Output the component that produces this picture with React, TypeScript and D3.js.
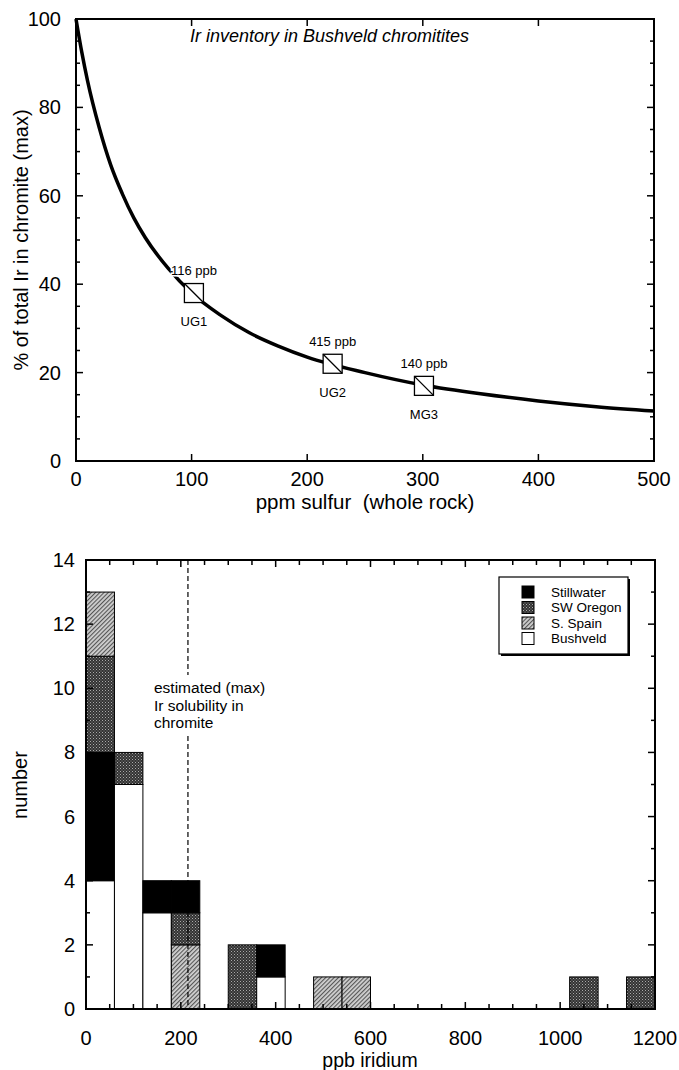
import { useEffect, useRef } from 'react';
import * as d3 from 'd3';

// top panel: Ir share in chromite vs. whole-rock sulfur
const sulfurPpm = [0, 5, 10, 20, 30, 40, 50, 60, 80, 100, 125, 150, 175, 200, 250, 300, 350, 400, 450, 500];
const irInChromitePct = [100, 92.5, 86, 75.5, 67, 60.5, 55, 50.5, 43.5, 38, 33, 29, 26, 23.5, 20, 17.2, 15.2, 13.6, 12.3, 11.3];

const sampleNames = ['UG1', 'UG2', 'MG3'];
const sampleSulfur = [102, 222, 301];
const samplePct = [38, 22, 17];
const sampleIr = ['116 ppb', '415 ppb', '140 ppb'];

// bottom panel: histogram of ppb iridium, 60 ppb bins
const binStart = [0, 60, 120, 180, 300, 360, 480, 540, 1020, 1140];
const binWidth = 60;
const stillwater = [4, 0, 1, 1, 0, 1, 0, 0, 0, 0];
const swOregon = [3, 1, 0, 1, 2, 0, 0, 0, 1, 1];
const sSpain = [2, 0, 0, 2, 0, 0, 1, 1, 0, 0];
const bushveld = [4, 7, 3, 0, 0, 1, 0, 0, 0, 0];
const defaultOrder = ['bushveld', 'stillwater', 'swOregon', 'sSpain'];
const bin180Order = ['bushveld', 'sSpain', 'swOregon', 'stillwater'];
const solubilityPpb = 215;

const legendNames = ['Stillwater', 'SW Oregon', 'S. Spain', 'Bushveld'];
const legendKeys = ['stillwater', 'swOregon', 'sSpain', 'bushveld'];

const FONT = '"Liberation Sans", Arial, sans-serif';

export default function App() {
  const svgRef = useRef<SVGSVGElement | null>(null);

  useEffect(() => {
    const svg = svgRef.current;
    if (!svg) return;
    const root = d3.select(svg);
    root.selectAll('*').remove();
    root.attr('font-family', FONT);

    // patterns
    const defs = root.append('defs');
    const stip = defs.append('pattern').attr('id', 'stip').attr('patternUnits', 'userSpaceOnUse')
      .attr('width', 3).attr('height', 3);
    stip.append('rect').attr('width', 3).attr('height', 3).attr('fill', '#333');
    stip.append('rect').attr('x', 0).attr('y', 0).attr('width', 1).attr('height', 1).attr('fill', '#aaa');
    stip.append('rect').attr('x', 1.5).attr('y', 1.5).attr('width', 1).attr('height', 1).attr('fill', '#888');
    const hatch = defs.append('pattern').attr('id', 'hatch').attr('patternUnits', 'userSpaceOnUse')
      .attr('width', 3).attr('height', 3).attr('patternTransform', 'rotate(45)');
    hatch.append('rect').attr('width', 3).attr('height', 3).attr('fill', '#d0d0d0');
    hatch.append('rect').attr('width', 1.1).attr('height', 3).attr('fill', '#555');

    const fills: Record<string, string> = {
      stillwater: '#000',
      swOregon: 'url(#stip)',
      sSpain: 'url(#hatch)',
      bushveld: '#fff',
    };
    const counts: Record<string, number[]> = { stillwater, swOregon, sSpain, bushveld };

    // ---------- top panel ----------
    const x1 = d3.scaleLinear().domain([0, 500]).range([76, 654]);
    const y1 = d3.scaleLinear().domain([0, 100]).range([461, 19]);

    const g1 = root.append('g');
    // ticks (inward, all four sides)
    d3.range(0, 101, 5).forEach((v) => {
      const len = v % 20 === 0 ? 7 : 4;
      g1.append('line').attr('x1', x1(0)).attr('x2', x1(0) + len).attr('y1', y1(v)).attr('y2', y1(v))
        .attr('stroke', '#000').attr('stroke-width', 1.5);
      g1.append('line').attr('x1', x1(500)).attr('x2', x1(500) - len).attr('y1', y1(v)).attr('y2', y1(v))
        .attr('stroke', '#000').attr('stroke-width', 1.5);
    });
    d3.range(0, 501, 100).forEach((v) => {
      g1.append('line').attr('x1', x1(v)).attr('x2', x1(v)).attr('y1', y1(0)).attr('y2', y1(0) - 7)
        .attr('stroke', '#000').attr('stroke-width', 1.5);
      g1.append('line').attr('x1', x1(v)).attr('x2', x1(v)).attr('y1', y1(100)).attr('y2', y1(100) + 7)
        .attr('stroke', '#000').attr('stroke-width', 1.5);
    });
    g1.append('rect').attr('x', x1(0)).attr('y', y1(100)).attr('width', x1(500) - x1(0))
      .attr('height', y1(0) - y1(100)).attr('fill', 'none').attr('stroke', '#000').attr('stroke-width', 2);

    d3.range(0, 101, 20).forEach((v) => {
      g1.append('text').attr('x', 61).attr('y', y1(v)).attr('dy', '0.35em').attr('text-anchor', 'end')
        .attr('font-size', 20).text(v);
    });
    d3.range(0, 501, 100).forEach((v) => {
      g1.append('text').attr('x', x1(v)).attr('y', 486).attr('text-anchor', 'middle')
        .attr('font-size', 20).text(v);
    });
    g1.append('text').attr('x', 365).attr('y', 509).attr('text-anchor', 'middle').attr('font-size', 20.5)
      .style('white-space', 'pre').text('ppm sulfur  (whole rock)');
    g1.append('text').attr('transform', `translate(28,240) rotate(-90)`).attr('text-anchor', 'middle')
      .attr('font-size', 20).text('% of total Ir in chromite (max)');
    g1.append('text').attr('x', 190).attr('y', 42).attr('font-size', 18).attr('font-style', 'italic')
      .text('Ir inventory in Bushveld chromitites');

    const curve = d3.line<number>()
      .x((_, i) => x1(sulfurPpm[i]))
      .y((d) => y1(d))
      .curve(d3.curveMonotoneX);
    g1.append('path').attr('d', curve(irInChromitePct)).attr('fill', 'none')
      .attr('stroke', '#000').attr('stroke-width', 3.5);

    sampleNames.forEach((name, i) => {
      const cx = x1(sampleSulfur[i]);
      const cy = y1(samplePct[i]);
      const s = 19;
      g1.append('rect').attr('x', cx - s / 2).attr('y', cy - s / 2).attr('width', s).attr('height', s)
        .attr('fill', '#fff').attr('stroke', '#000').attr('stroke-width', 1.3);
      g1.append('line').attr('x1', cx - s / 2).attr('y1', cy - s / 2).attr('x2', cx + s / 2).attr('y2', cy + s / 2)
        .attr('stroke', '#000').attr('stroke-width', 1.3);
      g1.append('text').attr('x', cx).attr('y', cy - 18).attr('text-anchor', 'middle').attr('font-size', 13)
        .attr('stroke', '#fff').attr('stroke-width', 3).attr('paint-order', 'stroke').text(sampleIr[i]);
      g1.append('text').attr('x', cx).attr('y', cy + 33).attr('text-anchor', 'middle').attr('font-size', 13)
        .text(name);
    });

    // ---------- bottom panel ----------
    const x2 = d3.scaleLinear().domain([0, 1200]).range([86, 655]);
    const y2 = d3.scaleLinear().domain([0, 14]).range([1009, 560]);
    const g2 = root.append('g');

    binStart.forEach((b, i) => {
      const order = b === 180 ? bin180Order : defaultOrder;
      let base = 0;
      order.forEach((k) => {
        const n = counts[k][i];
        if (!n) return;
        g2.append('rect').attr('x', x2(b)).attr('y', y2(base + n)).attr('width', x2(b + binWidth) - x2(b))
          .attr('height', y2(base) - y2(base + n)).attr('fill', fills[k]).attr('stroke', '#000')
          .attr('stroke-width', 1);
        base += n;
      });
    });

    // dashed solubility line with gap for the note
    g2.append('line').attr('x1', x2(solubilityPpb)).attr('x2', x2(solubilityPpb)).attr('y1', y2(14))
      .attr('y2', y2(0)).attr('stroke', '#000').attr('stroke-width', 1.2).attr('stroke-dasharray', '5,3');
    g2.append('rect').attr('x', 150).attr('y', 675).attr('width', 122).attr('height', 60).attr('fill', '#fff');
    ['estimated (max)', 'Ir solubility in', 'chromite'].forEach((t, i) => {
      g2.append('text').attr('x', 154).attr('y', 693 + i * 17.5).attr('font-size', 15.5).text(t);
    });

    d3.range(0, 14.01, 1).forEach((v) => {
      const len = v % 2 === 0 ? 7 : 4;
      g2.append('line').attr('x1', x2(0)).attr('x2', x2(0) + len).attr('y1', y2(v)).attr('y2', y2(v))
        .attr('stroke', '#000').attr('stroke-width', 1.5);
      g2.append('line').attr('x1', x2(1200)).attr('x2', x2(1200) - len).attr('y1', y2(v)).attr('y2', y2(v))
        .attr('stroke', '#000').attr('stroke-width', 1.5);
    });
    d3.range(0, 1201, 50).forEach((v) => {
      const len = v % 200 === 0 ? 7 : 5;
      g2.append('line').attr('x1', x2(v)).attr('x2', x2(v)).attr('y1', y2(0)).attr('y2', y2(0) - len)
        .attr('stroke', '#000').attr('stroke-width', 1.5);
      g2.append('line').attr('x1', x2(v)).attr('x2', x2(v)).attr('y1', y2(14)).attr('y2', y2(14) + len)
        .attr('stroke', '#000').attr('stroke-width', 1.5);
    });
    g2.append('rect').attr('x', x2(0)).attr('y', y2(14)).attr('width', x2(1200) - x2(0))
      .attr('height', y2(0) - y2(14)).attr('fill', 'none').attr('stroke', '#000').attr('stroke-width', 2);

    d3.range(0, 14.01, 2).forEach((v) => {
      g2.append('text').attr('x', 75).attr('y', y2(v)).attr('dy', '0.35em').attr('text-anchor', 'end')
        .attr('font-size', 20).text(v);
    });
    d3.range(0, 1201, 200).forEach((v) => {
      g2.append('text').attr('x', x2(v)).attr('y', 1045).attr('text-anchor', 'middle')
        .attr('font-size', 20).text(v);
    });
    g2.append('text').attr('x', 370).attr('y', 1067).attr('text-anchor', 'middle').attr('font-size', 19.5)
      .text('ppb iridium');
    g2.append('text').attr('transform', `translate(27,785) rotate(-90)`).attr('text-anchor', 'middle')
      .attr('font-size', 20).text('number');

    // legend
    const lg = g2.append('g').attr('transform', 'translate(499,577)');
    lg.append('rect').attr('x', 2).attr('y', 2).attr('width', 129).attr('height', 77).attr('fill', '#000');
    lg.append('rect').attr('width', 129).attr('height', 77).attr('fill', '#fff').attr('stroke', '#000')
      .attr('stroke-width', 1.2);
    legendKeys.forEach((k, i) => {
      const cy = 15 + i * 15.5;
      lg.append('rect').attr('x', 23).attr('y', cy - 6).attr('width', 12).attr('height', 12)
        .attr('fill', fills[k]).attr('stroke', '#000').attr('stroke-width', 1);
      lg.append('text').attr('x', 52).attr('y', cy).attr('dy', '0.35em').attr('font-size', 13.5)
        .text(legendNames[i]);
    });
  }, []);

  return (
    <svg ref={svgRef} width={679} height={1070}
      style={{ position: 'absolute', left: 0, top: 0, background: '#fff' }} />
  );
}
